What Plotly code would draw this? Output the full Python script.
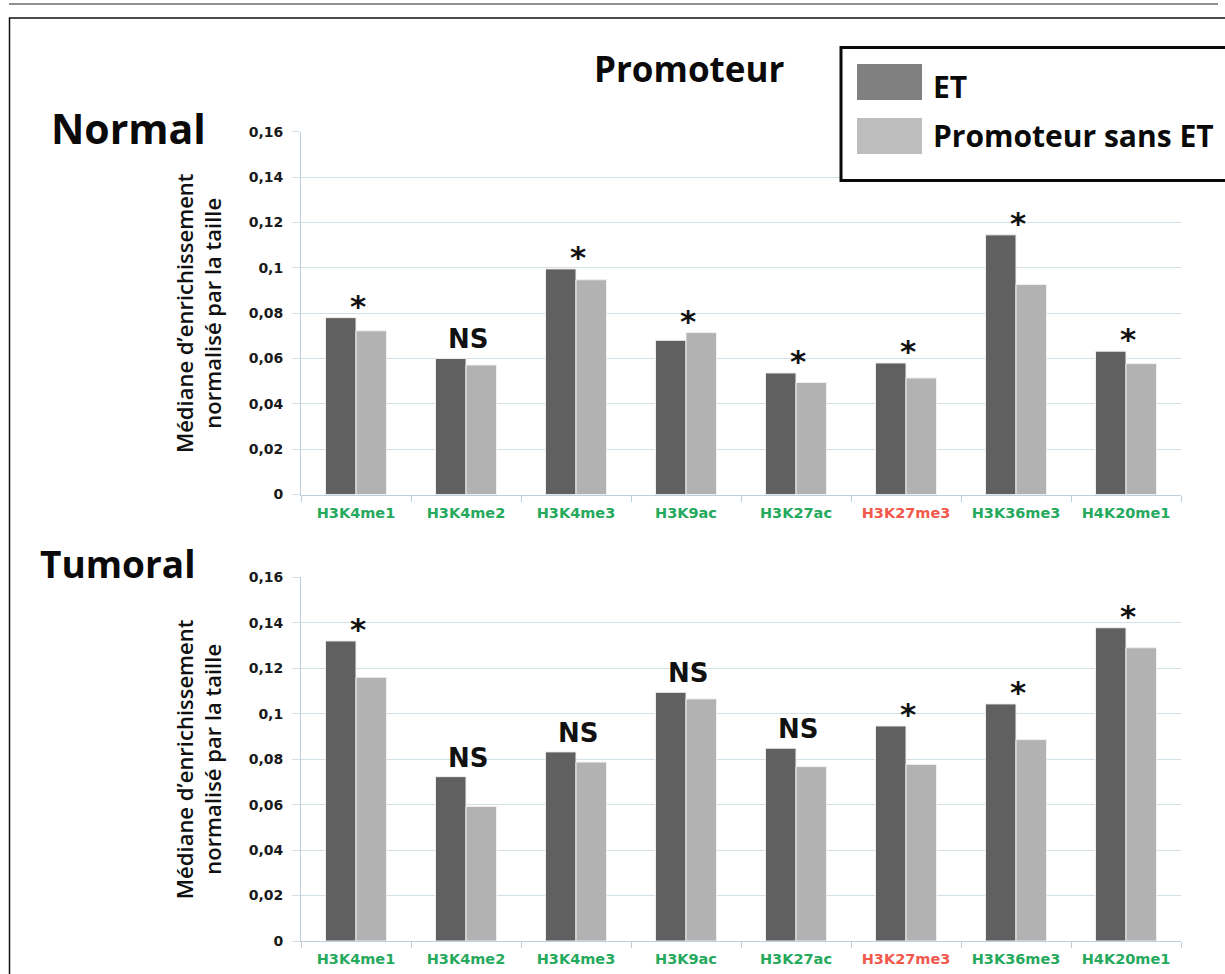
import plotly.graph_objects as go

# ---- data -------------------------------------------------------------
categories = ["H3K4me1", "H3K4me2", "H3K4me3", "H3K9ac",
              "H3K27ac", "H3K27me3", "H3K36me3", "H4K20me1"]
repressive_marks = ["H3K27me3"]

normal_et = [0.0780, 0.0600, 0.0995, 0.0680, 0.0536, 0.0580, 0.1145, 0.0632]
normal_sans_et = [0.0722, 0.0571, 0.0947, 0.0714, 0.0494, 0.0514, 0.0926, 0.0577]
normal_signif = ["*", "NS", "*", "*", "*", "*", "*", "*"]

tumoral_et = [0.1320, 0.0723, 0.0832, 0.1094, 0.0848, 0.0946, 0.1043, 0.1378]
tumoral_sans_et = [0.1160, 0.0592, 0.0787, 0.1065, 0.0767, 0.0777, 0.0886, 0.1290]
tumoral_signif = ["*", "NS", "NS", "NS", "NS", "*", "*", "*"]

y_tick_values = [0, 0.02, 0.04, 0.06, 0.08, 0.10, 0.12, 0.14, 0.16]
y_tick_labels = ["0", "0,02", "0,04", "0,06", "0,08", "0,1", "0,12", "0,14", "0,16"]

series_names = ["ET", "Promoteur sans ET"]
y_title = "Médiane d’enrichissement<br>normalisé par la taille"

# ---- style ------------------------------------------------------------
W, H = 1225, 974
DARK = "#606060"
LIGHT = "#b2b2b2"
LEGEND_DARK = "#808080"
LEGEND_LIGHT = "#bdbdbd"
GREEN = "#25a95c"
RED = "#f2584b"
GRID = "#d3e0e8"
AXIS = "#bccfdb"
TITLE_FONT = "Open Sans"
TICK_FONT = "DejaVu Sans"


def px_x(x):
    return x / W


def px_y(y):
    return 1 - y / H


def label_html(name):
    color = RED if name in repressive_marks else GREEN
    return f"<span style='color:{color}'><b>{name}</b></span>"


x_dom = [px_x(301), px_x(1181)]
panels = [
    dict(et=normal_et, sans=normal_sans_et, sig=normal_signif,
         x="x", y="y", top=131.7, bottom=494.5),
    dict(et=tumoral_et, sans=tumoral_sans_et, sig=tumoral_signif,
         x="x2", y="y2", top=577.3, bottom=941.0),
]

fig = go.Figure()
annotations = []

for i, p in enumerate(panels):
    for vals, name, color in ((p["et"], series_names[0], DARK),
                              (p["sans"], series_names[1], LIGHT)):
        fig.add_trace(go.Bar(
            x=categories, y=vals, name=name, xaxis=p["x"], yaxis=p["y"],
            marker=dict(color=color, line=dict(color="#f4eeee", width=1)),
            showlegend=False,
        ))
    # significance marks above each pair of bars
    for cat, a, b, s in zip(categories, p["et"], p["sans"], p["sig"]):
        star = s == "*"
        annotations.append(dict(
            x=cat, y=max(a, b), xref=p["x"], yref=p["y"],
            text=f"<b>{s}</b>", showarrow=False,
            xanchor="center", yanchor="bottom",
            xshift=2, yshift=-8 if star else 2,
            font=dict(family=TICK_FONT, size=31 if star else 26, color="#111111"),
        ))
    # rotated y-axis title
    annotations.append(dict(
        x=px_x(198), y=px_y((p["top"] + p["bottom"]) / 2),
        xref="paper", yref="paper", text=y_title, showarrow=False,
        textangle=-90, xanchor="center", yanchor="middle",
        font=dict(family=TITLE_FONT, size=22, color="#111111", weight=600),
    ))

axis_common = dict(domain=x_dom, showgrid=False, showline=True, linecolor=AXIS,
                   linewidth=1, ticks="outside", tickson="boundaries",
                   ticklen=6, tickcolor=AXIS, tickmode="array",
                   tickvals=categories,
                   ticktext=[label_html(c) for c in categories],
                   tickfont=dict(family=TICK_FONT, size=14.5, color=GREEN),
                   ticklabelstandoff=5,
                   automargin=False, fixedrange=True)
yaxis_common = dict(range=[0, 0.16], tickmode="array", tickvals=y_tick_values,
                    ticktext=[f"<b>{t}</b>" for t in y_tick_labels],
                    tickfont=dict(family=TICK_FONT, size=14, color="#1a1a1a"),
                    showgrid=True, gridcolor=GRID, gridwidth=1,
                    showline=True, linecolor=AXIS, linewidth=1,
                    ticks="outside", ticklen=8, tickcolor=GRID,
                    ticklabelstandoff=6, zeroline=False,
                    automargin=False, fixedrange=True)

layout = dict(
    width=W, height=H, margin=dict(l=0, r=0, t=0, b=0),
    paper_bgcolor="white", plot_bgcolor="white",
    barmode="group", bargap=0.445, bargroupgap=0.0,
    xaxis=dict(anchor="y", **axis_common),
    xaxis2=dict(anchor="y2", **axis_common),
    yaxis=dict(anchor="x", domain=[px_y(494.5), px_y(131.7)], **yaxis_common),
    yaxis2=dict(anchor="x2", domain=[px_y(941.0), px_y(577.3)], **yaxis_common),
)
fig.update_layout(**layout)

# panel headings and main title
for text, cx, cy, size in (("Promoteur", 688.5, 68, 35),
                           ("Normal", 128.5, 128, 41),
                           ("Tumoral", 117.5, 563.5, 37)):
    annotations.append(dict(
        x=px_x(cx), y=px_y(cy), xref="paper", yref="paper",
        text=f"<b>{text}</b>", showarrow=False,
        xanchor="center", yanchor="middle",
        font=dict(family=TITLE_FONT, size=size, color="#0a0a0a"),
    ))

# frame lines and hand-drawn legend box
shapes = [
    dict(type="line", xref="paper", yref="paper",
         x0=px_x(9), x1=px_x(1218), y0=px_y(4), y1=px_y(4),
         line=dict(color="#222222", width=1)),
    dict(type="rect", xref="paper", yref="paper",
         x0=px_x(9.5), x1=px_x(1240), y0=px_y(18), y1=px_y(1000),
         line=dict(color="#111111", width=1.5)),
    dict(type="rect", xref="paper", yref="paper",
         x0=px_x(841), x1=px_x(1240), y0=px_y(47.5), y1=px_y(180.5),
         line=dict(color="#0a0a0a", width=3), fillcolor="white"),
    dict(type="rect", xref="paper", yref="paper",
         x0=px_x(857), x1=px_x(922), y0=px_y(64), y1=px_y(100),
         line=dict(width=0), fillcolor=LEGEND_DARK),
    dict(type="rect", xref="paper", yref="paper",
         x0=px_x(857), x1=px_x(922), y0=px_y(118), y1=px_y(154),
         line=dict(width=0), fillcolor=LEGEND_LIGHT),
]
for name, cy in zip(series_names, (86, 136)):
    annotations.append(dict(
        x=px_x(931), y=px_y(cy), xref="paper", yref="paper",
        text=f"<b>{name}</b>", showarrow=False,
        xanchor="left", yanchor="middle",
        font=dict(family=TITLE_FONT, size=30, color="#0a0a0a"),
    ))

fig.update_layout(annotations=annotations, shapes=shapes)
fig.write_html("out.html")
